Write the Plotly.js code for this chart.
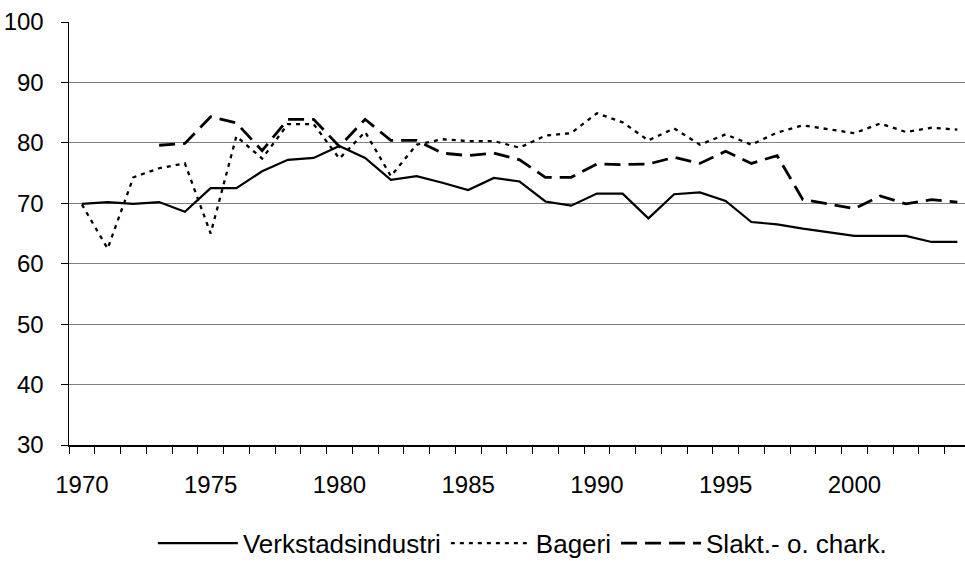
<!DOCTYPE html>
<html>
<head>
<meta charset="utf-8">
<script src="https://cdn.plot.ly/plotly-3.0.1.min.js"></script>
<style>html,body{margin:0;padding:0;background:#fff;}#chart{width:965px;height:564px;}</style>
</head>
<body>
<div id="chart"></div>
<script>
var years = [1970,1971,1972,1973,1974,1975,1976,1977,1978,1979,1980,1981,1982,1983,1984,1985,1986,1987,1988,1989,1990,1991,1992,1993,1994,1995,1996,1997,1998,1999,2000,2001,2002,2003,2004];
var verkstadsindustri = [69.9,70.2,69.9,70.2,68.6,72.5,72.5,75.3,77.2,77.5,79.5,77.5,73.9,74.5,73.4,72.2,74.2,73.6,70.3,69.6,71.6,71.6,67.5,71.5,71.8,70.4,66.9,66.5,65.8,65.2,64.6,64.6,64.6,63.6,63.6];
var bageri = [69.8,62.5,74.3,75.8,76.6,65.0,81.1,77.4,83.1,83.1,77.4,81.8,74.5,79.7,80.6,80.3,80.3,79.2,81.2,81.6,84.9,83.4,80.4,82.4,79.7,81.4,79.7,81.7,82.9,82.3,81.6,83.2,81.8,82.5,82.2];
var slakt = [null,null,null,79.6,79.9,84.3,83.3,78.7,83.9,83.9,79.4,83.9,80.4,80.4,78.3,77.9,78.3,77.2,74.3,74.3,76.5,76.4,76.5,77.6,76.6,78.6,76.6,77.9,70.6,69.9,69.1,71.2,69.9,70.6,70.2];
var seriesNames = ["Verkstadsindustri","Bageri","Slakt.- o. chark."];
var yTicks = [30,40,50,60,70,80,90,100];
var xTicks = [1970,1975,1980,1985,1990,1995,2000];

var font = "Liberation Sans, Arial, sans-serif";
var traces = [
  {x: years, y: verkstadsindustri, name: seriesNames[0], type: "scatter", mode: "lines",
   line: {color: "#000", width: 2.2}},
  {x: years, y: bageri, name: seriesNames[1], type: "scatter", mode: "lines",
   line: {color: "#000", width: 2.3, dash: "4px,5px"}},
  {x: years, y: slakt, name: seriesNames[2], type: "scatter", mode: "lines",
   line: {color: "#000", width: 2.8, dash: "16px,8px"}}
];
var layout = {
  width: 965, height: 564,
  margin: {l: 69, r: 0, t: 22, b: 119, pad: 0, autoexpand: false},
  paper_bgcolor: "#fff", plot_bgcolor: "#fff",
  font: {family: font, size: 24, color: "#000"},
  showlegend: true,
  legend: {orientation: "h", x: 0.506, xanchor: "center", y: -0.232, yanchor: "middle",
           font: {family: font, size: 26, color: "#000"}, itemwidth: 80, tracegroupgap: 0,
           bgcolor: "rgba(0,0,0,0)"},
  xaxis: {
    range: [1969.5, 1969.5 + 896/25.75],
    tickmode: "array", tickvals: xTicks, ticktext: xTicks.map(String),
    ticks: "", showgrid: false, zeroline: false,
    showline: true, linecolor: "#000", linewidth: 1.5,
    ticklabelstandoff: 18, automargin: false,
    minor: {tick0: 1969.5, dtick: 1, ticks: "outside", ticklen: 7, tickcolor: "#000", tickwidth: 1, showgrid: false},
    tickfont: {family: font, size: 24, color: "#000"}
  },
  yaxis: {
    range: [30, 100], tickmode: "array", tickvals: yTicks,
    ticks: "outside", ticklen: 7, tickcolor: "#000", tickwidth: 1,
    showgrid: true, gridcolor: "#808080", gridwidth: 1.2,
    zeroline: false, showline: true, linecolor: "#000", linewidth: 1.5,
    ticklabelstandoff: 12, automargin: false,
    tickfont: {family: font, size: 24, color: "#000"}
  }
};
Plotly.newPlot("chart", traces, layout, {staticPlot: true, displayModeBar: false});
</script>
</body>
</html>
